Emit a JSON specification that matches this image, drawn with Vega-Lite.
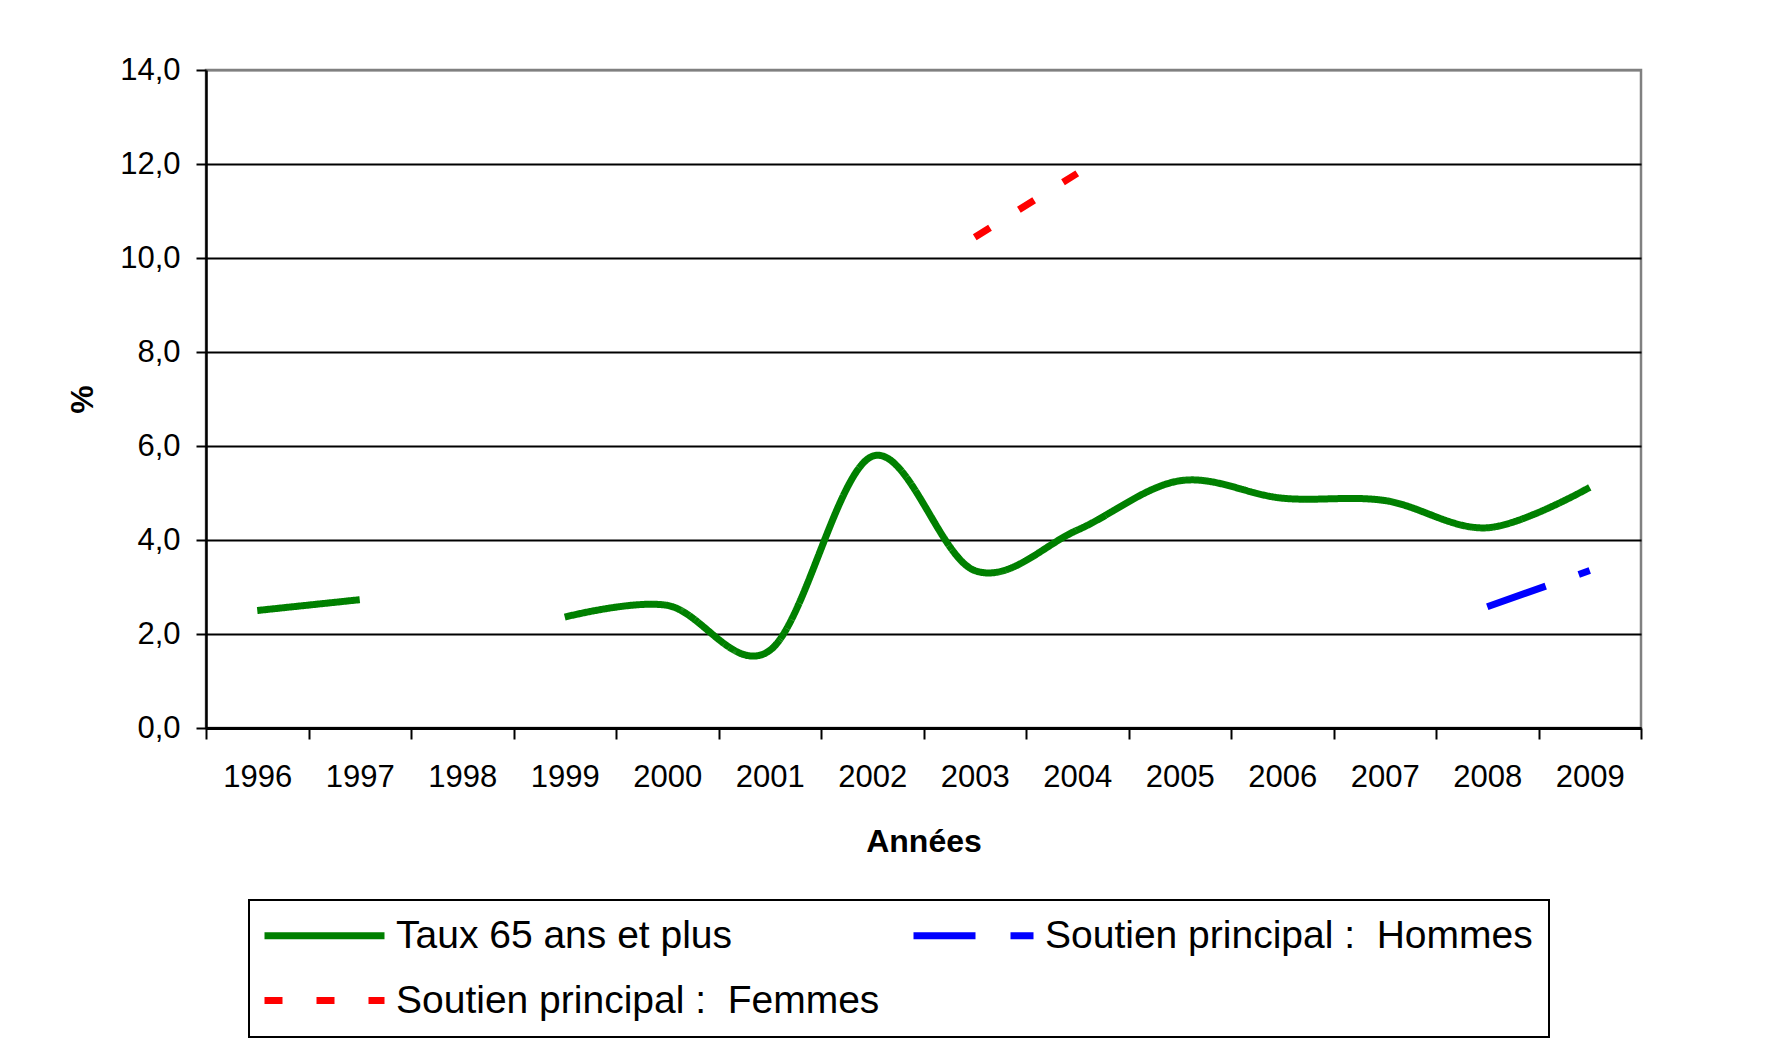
{
  "$schema": "https://vega.github.io/schema/vega-lite/v6.json",
  "width": 1435,
  "height": 658,
  "autosize": {"type": "none"},
  "padding": {"left": 206, "top": 70, "right": 142, "bottom": 310},
  "background": "white",
  "config": {
    "font": "Liberation Sans",
    "view": {"stroke": "#808080", "strokeWidth": 2.5},
    "legend": {
      "orient": "none",
      "legendX": 43,
      "legendY": 830,
      "columns": 2,
      "direction": "horizontal",
      "padding": 16,
      "strokeColor": "black",
      "strokeWidth": 2,
      "fillColor": "white",
      "cornerRadius": 0,
      "symbolType": "M-6,0H6",
      "symbolSize": 400,
      "symbolStrokeWidth": 7,
      "symbolOffset": 40,
      "labelFont": "Liberation Sans",
      "labelFontSize": 39,
      "labelColor": "black",
      "labelLimit": 1000,
      "labelOffset": 52,
      "rowPadding": 25,
      "columnPadding": 19
    }
  },
  "data": {
    "values": [
      {"annee": 1996, "serie": "Taux 65 ans et plus", "valeur": 2.5},
      {"annee": 1997, "serie": "Taux 65 ans et plus", "valeur": 2.73},
      {"annee": 1998, "serie": "Taux 65 ans et plus", "valeur": null},
      {"annee": 1999, "serie": "Taux 65 ans et plus", "valeur": 2.36},
      {"annee": 2000, "serie": "Taux 65 ans et plus", "valeur": 2.61},
      {"annee": 2001, "serie": "Taux 65 ans et plus", "valeur": 1.65},
      {"annee": 2002, "serie": "Taux 65 ans et plus", "valeur": 5.78},
      {"annee": 2003, "serie": "Taux 65 ans et plus", "valeur": 3.35},
      {"annee": 2004, "serie": "Taux 65 ans et plus", "valeur": 4.21},
      {"annee": 2005, "serie": "Taux 65 ans et plus", "valeur": 5.26},
      {"annee": 2006, "serie": "Taux 65 ans et plus", "valeur": 4.89},
      {"annee": 2007, "serie": "Taux 65 ans et plus", "valeur": 4.84},
      {"annee": 2008, "serie": "Taux 65 ans et plus", "valeur": 4.26},
      {"annee": 2009, "serie": "Taux 65 ans et plus", "valeur": 5.12},
      {"annee": 2003, "serie": "Soutien principal : \u00a0Femmes", "valeur": 10.44},
      {"annee": 2004, "serie": "Soutien principal : \u00a0Femmes", "valeur": 11.8},
      {"annee": 2008, "serie": "Soutien principal : \u00a0Hommes", "valeur": 2.58},
      {"annee": 2009, "serie": "Soutien principal : \u00a0Hommes", "valeur": 3.35}
    ]
  },
  "mark": {"type": "line", "interpolate": "cardinal", "strokeWidth": 7, "invalid": "break-paths-filter-domains"},
  "encoding": {
    "x": {
      "field": "annee",
      "type": "quantitative",
      "scale": {"domain": [1995.5, 2009.5], "nice": false, "zero": false},
      "axis": {
        "title": "Années",
        "titleFontSize": 32,
        "titleFontWeight": "bold",
        "titleColor": "black",
        "titlePadding": 34,
        "values": [1995.5, 1996.5, 1997.5, 1998.5, 1999.5, 2000.5, 2001.5, 2002.5, 2003.5, 2004.5, 2005.5, 2006.5, 2007.5, 2008.5, 2009.5],
        "labelExpr": "datum.value < 2009 ? format(datum.value + 0.5, 'd') : ''",
        "labelOffset": 51.25,
        "labelFontSize": 31,
        "labelColor": "black",
        "labelPadding": 23,
        "labelFlush": false,
        "labelOverlap": false,
        "labelBound": false,
        "tickSize": 11,
        "tickColor": "black",
        "tickWidth": 2,
        "domainColor": "black",
        "domainWidth": 3,
        "grid": false
      }
    },
    "y": {
      "field": "valeur",
      "type": "quantitative",
      "scale": {"domain": [0, 14], "nice": false},
      "axis": {
        "title": "%",
        "titleFontSize": 32,
        "titleFontWeight": "bold",
        "titleColor": "black",
        "titlePadding": 20,
        "values": [0, 2, 4, 6, 8, 10, 12, 14],
        "labelExpr": "replace(format(datum.value, '.1f'), '.', ',')",
        "labelFontSize": 31,
        "labelColor": "black",
        "labelPadding": 16,
        "tickSize": 10,
        "tickColor": "black",
        "tickWidth": 2,
        "domainColor": "black",
        "domainWidth": 2.5,
        "grid": true,
        "gridColor": {"condition": {"test": "datum.value === 14", "value": "#808080"}, "value": "black"},
        "gridWidth": 2,
        "gridOpacity": 1
      }
    },
    "color": {
      "field": "serie",
      "type": "nominal",
      "scale": {
        "domain": ["Taux 65 ans et plus", "Soutien principal : \u00a0Hommes", "Soutien principal : \u00a0Femmes"],
        "range": ["#008000", "#0000FF", "#FF0000"]
      },
      "legend": {"title": null}
    },
    "strokeDash": {
      "field": "serie",
      "type": "nominal",
      "scale": {
        "domain": ["Taux 65 ans et plus", "Soutien principal : \u00a0Hommes", "Soutien principal : \u00a0Femmes"],
        "range": [[1, 0], [62, 35], [18, 34]]
      },
      "legend": {"title": null}
    }
  }
}
